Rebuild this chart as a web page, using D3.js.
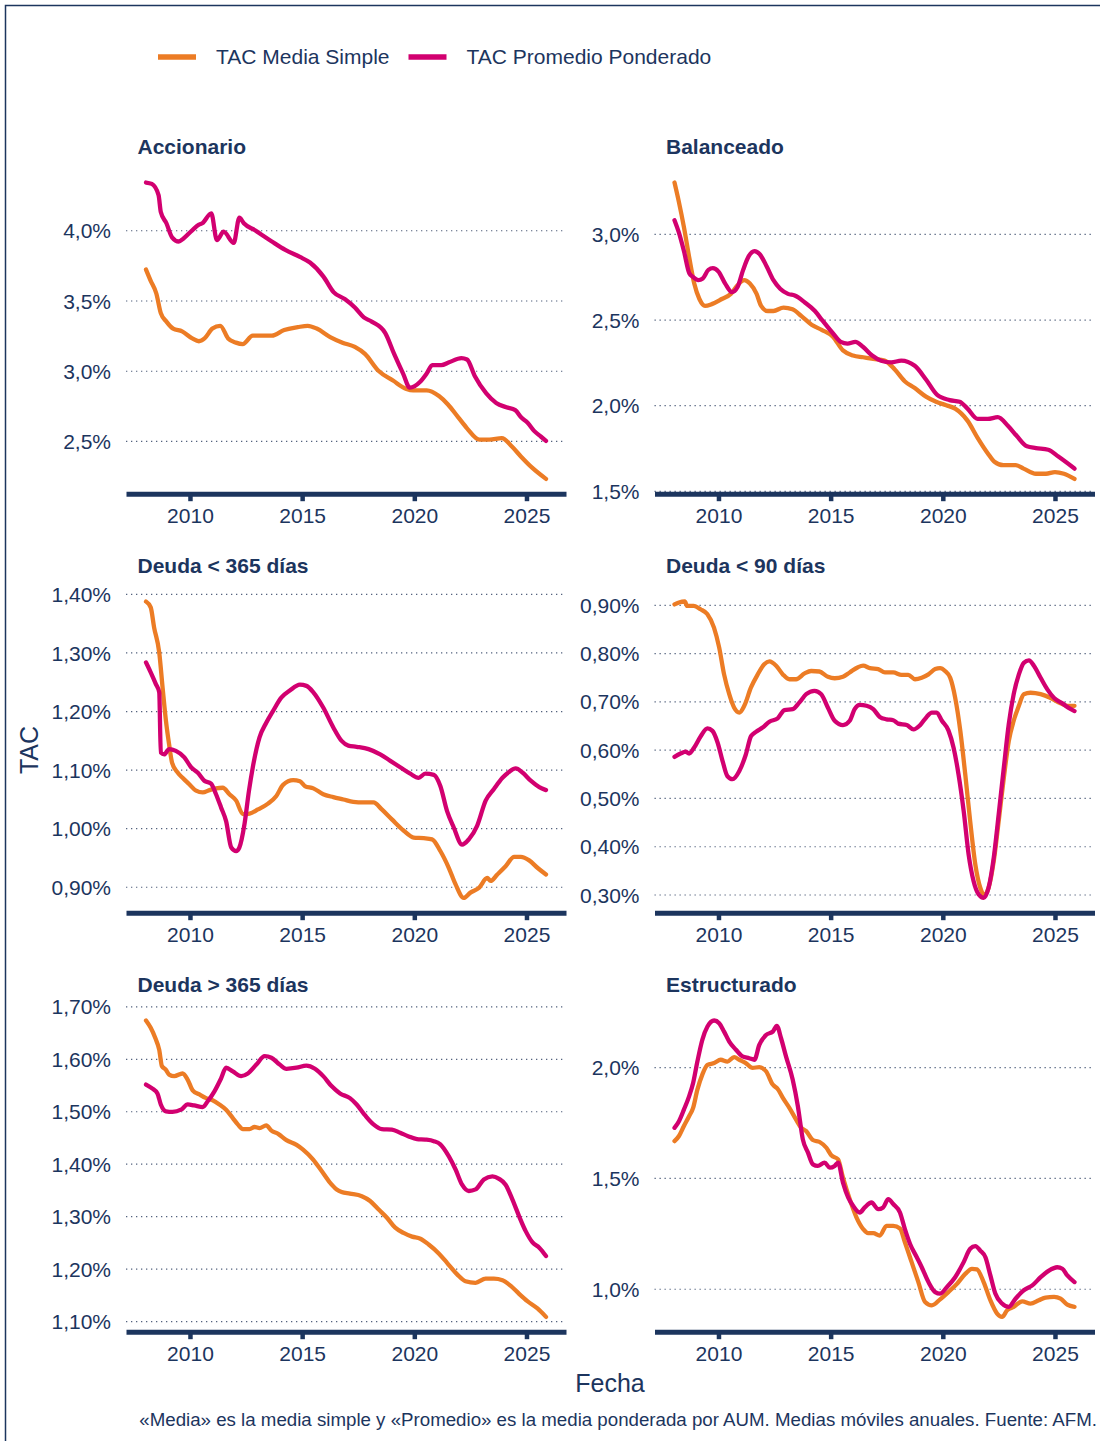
<!DOCTYPE html>
<html lang="es">
<head>
	<meta charset="UTF-8">
	<title>TAC por categoría</title>
	<script src="https://d3js.org/d3.v7.min.js"></script>
	<style>
		body{margin:0;background:#fff;}
		svg text{font-family:"Liberation Sans", Arial, sans-serif;}
	</style>
</head>
<body>
<div id="grafico"></div>
<script>
	// categorías (paneles)
	var paneles = ["Accionario", "Balanceado", "Deuda < 365 días", "Deuda < 90 días", "Deuda > 365 días", "Estructurado"];
	var series = ["TAC Media Simple", "TAC Promedio Ponderado"];
	var fechaTicks = [2010, 2015, 2020, 2025];

	// [año, TAC %]
	var accionarioMedia = [[2008.04,3.72],[2008.25,3.64],[2008.5,3.55],[2008.7,3.41],[2008.95,3.35],[2009.25,3.30],[2009.65,3.28],[2010.1,3.23],[2010.4,3.21],[2010.65,3.23],[2011.0,3.30],[2011.35,3.32],[2011.7,3.23],[2012.05,3.20],[2012.35,3.19],[2012.8,3.25],[2013.2,3.25],[2013.65,3.25],[2014.2,3.29],[2014.8,3.31],[2015.25,3.32],[2015.65,3.30],[2016.25,3.24],[2016.8,3.20],[2017.35,3.17],[2017.8,3.12],[2018.4,3.00],[2019.05,2.93],[2019.65,2.87],[2019.95,2.86],[2020.55,2.86],[2021.1,2.82],[2021.5,2.76],[2021.95,2.67],[2022.35,2.59],[2022.9,2.51],[2023.35,2.51],[2023.9,2.52],[2024.35,2.46],[2024.75,2.39],[2025.25,2.31],[2025.87,2.23]];
	var accionarioPromedio = [[2008.04,4.34],[2008.3,4.33],[2008.6,4.25],[2008.7,4.13],[2008.95,4.05],[2009.2,3.95],[2009.5,3.92],[2009.7,3.94],[2010.1,4.00],[2010.4,4.04],[2010.55,4.05],[2010.95,4.12],[2011.2,3.93],[2011.5,3.99],[2011.95,3.91],[2012.2,4.09],[2012.4,4.05],[2012.9,4.00],[2013.65,3.92],[2014.25,3.86],[2014.9,3.81],[2015.35,3.77],[2015.95,3.67],[2016.4,3.56],[2016.9,3.51],[2017.35,3.45],[2017.75,3.38],[2018.1,3.35],[2018.7,3.27],[2019.1,3.12],[2019.5,2.98],[2019.8,2.88],[2020.25,2.92],[2020.55,2.98],[2020.8,3.04],[2021.2,3.04],[2021.55,3.06],[2022.1,3.09],[2022.35,3.08],[2022.7,2.96],[2023.2,2.84],[2023.65,2.77],[2024.1,2.74],[2024.5,2.72],[2024.75,2.67],[2025.05,2.63],[2025.35,2.57],[2025.65,2.53],[2025.87,2.50]];

	var balanceadoMedia = [[2008.04,3.30],[2008.23,3.19],[2008.46,3.04],[2008.7,2.86],[2008.92,2.71],[2009.15,2.62],[2009.4,2.58],[2009.7,2.59],[2010.15,2.62],[2010.55,2.65],[2010.85,2.70],[2011.15,2.73],[2011.4,2.71],[2011.7,2.65],[2011.9,2.58],[2012.2,2.55],[2012.45,2.55],[2012.9,2.57],[2013.3,2.56],[2013.7,2.52],[2014.15,2.47],[2014.6,2.44],[2015.1,2.40],[2015.55,2.32],[2016.0,2.29],[2016.45,2.28],[2016.9,2.27],[2017.4,2.26],[2017.85,2.21],[2018.3,2.14],[2018.75,2.10],[2019.25,2.05],[2019.7,2.02],[2020.15,2.00],[2020.55,1.98],[2021.1,1.91],[2021.55,1.81],[2022.0,1.72],[2022.3,1.67],[2022.7,1.65],[2023.25,1.65],[2023.6,1.63],[2024.15,1.60],[2024.6,1.60],[2025.0,1.61],[2025.4,1.60],[2025.87,1.57]];
	var balanceadoPromedio = [[2008.04,3.08],[2008.23,3.01],[2008.46,2.90],[2008.7,2.77],[2008.85,2.75],[2009.1,2.73],[2009.3,2.74],[2009.55,2.79],[2009.75,2.80],[2010.0,2.78],[2010.3,2.71],[2010.6,2.66],[2010.85,2.69],[2011.1,2.79],[2011.35,2.87],[2011.6,2.90],[2011.85,2.88],[2012.15,2.81],[2012.45,2.73],[2012.75,2.68],[2013.1,2.65],[2013.4,2.64],[2013.85,2.60],[2014.3,2.55],[2014.6,2.50],[2015.1,2.42],[2015.45,2.37],[2015.75,2.36],[2016.1,2.37],[2016.45,2.34],[2016.85,2.29],[2017.25,2.26],[2017.7,2.25],[2018.15,2.26],[2018.75,2.23],[2019.25,2.15],[2019.75,2.06],[2020.3,2.03],[2020.75,2.02],[2021.1,1.98],[2021.55,1.92],[2022.0,1.92],[2022.45,1.93],[2022.9,1.88],[2023.3,1.82],[2023.75,1.76],[2024.15,1.75],[2024.7,1.74],[2025.15,1.70],[2025.87,1.63]];

	var deuda365Media = [[2008.04,1.387],[2008.25,1.377],[2008.4,1.343],[2008.63,1.300],[2008.78,1.240],[2008.93,1.183],[2009.07,1.143],[2009.2,1.112],[2009.45,1.095],[2009.67,1.086],[2009.97,1.075],[2010.27,1.064],[2010.57,1.061],[2010.87,1.065],[2011.16,1.068],[2011.46,1.069],[2011.76,1.058],[2012.06,1.047],[2012.36,1.024],[2012.66,1.025],[2013.03,1.032],[2013.48,1.042],[2013.85,1.055],[2014.15,1.074],[2014.6,1.082],[2014.9,1.080],[2015.12,1.072],[2015.5,1.068],[2015.94,1.058],[2016.39,1.053],[2016.84,1.049],[2017.28,1.045],[2017.73,1.044],[2018.18,1.044],[2018.55,1.032],[2019.0,1.015],[2019.52,0.996],[2019.97,0.984],[2020.42,0.983],[2020.79,0.981],[2021.16,0.961],[2021.54,0.932],[2021.84,0.904],[2022.2,0.881],[2022.5,0.890],[2022.88,0.898],[2023.25,0.915],[2023.4,0.910],[2023.7,0.921],[2024.07,0.935],[2024.45,0.951],[2024.75,0.951],[2025.12,0.945],[2025.5,0.932],[2025.87,0.921]];
	var deuda365Promedio = [[2008.04,1.283],[2008.25,1.266],[2008.48,1.246],[2008.63,1.232],[2008.7,1.129],[2008.85,1.126],[2009.07,1.135],[2009.37,1.132],[2009.75,1.121],[2010.05,1.104],[2010.34,1.095],[2010.64,1.081],[2010.94,1.076],[2011.16,1.058],[2011.39,1.035],[2011.61,1.012],[2011.84,0.967],[2012.06,0.961],[2012.2,0.967],[2012.43,1.007],[2012.63,1.064],[2012.8,1.104],[2013.1,1.155],[2013.4,1.180],[2013.7,1.200],[2014.07,1.223],[2014.45,1.235],[2014.9,1.245],[2015.19,1.243],[2015.5,1.232],[2015.94,1.206],[2016.39,1.172],[2016.76,1.149],[2017.06,1.141],[2017.43,1.139],[2017.96,1.135],[2018.48,1.126],[2018.93,1.115],[2019.37,1.104],[2019.82,1.093],[2020.19,1.086],[2020.49,1.093],[2020.87,1.091],[2021.16,1.072],[2021.46,1.029],[2021.76,1.001],[2022.13,0.972],[2022.43,0.981],[2022.8,1.004],[2023.18,1.047],[2023.55,1.067],[2023.93,1.086],[2024.22,1.096],[2024.52,1.102],[2024.82,1.095],[2025.19,1.081],[2025.57,1.070],[2025.87,1.065]];

	var deuda90Media = [[2008.04,0.901],[2008.24,0.905],[2008.5,0.907],[2008.6,0.898],[2008.9,0.898],[2009.2,0.891],[2009.5,0.881],[2009.8,0.853],[2010.03,0.812],[2010.25,0.756],[2010.48,0.715],[2010.7,0.687],[2010.93,0.677],[2011.15,0.691],[2011.45,0.729],[2011.75,0.756],[2012.04,0.777],[2012.27,0.783],[2012.57,0.774],[2012.87,0.756],[2013.16,0.746],[2013.46,0.746],[2013.84,0.758],[2014.13,0.763],[2014.5,0.762],[2014.88,0.751],[2015.18,0.748],[2015.55,0.751],[2015.85,0.760],[2016.22,0.771],[2016.45,0.774],[2016.75,0.769],[2017.12,0.767],[2017.42,0.760],[2017.79,0.760],[2018.16,0.755],[2018.46,0.755],[2018.76,0.746],[2019.06,0.749],[2019.36,0.756],[2019.66,0.767],[2019.88,0.769],[2020.1,0.763],[2020.33,0.749],[2020.55,0.708],[2020.78,0.639],[2021.0,0.549],[2021.22,0.452],[2021.45,0.362],[2021.67,0.314],[2021.85,0.299],[2022.04,0.314],[2022.27,0.369],[2022.49,0.452],[2022.72,0.542],[2022.94,0.618],[2023.16,0.660],[2023.39,0.691],[2023.61,0.715],[2023.91,0.718],[2024.36,0.715],[2024.81,0.707],[2025.25,0.696],[2025.55,0.691],[2025.87,0.691]];
	var deuda90Promedio = [[2008.04,0.585],[2008.31,0.592],[2008.54,0.596],[2008.69,0.592],[2008.91,0.604],[2009.21,0.628],[2009.51,0.644],[2009.73,0.639],[2009.96,0.615],[2010.18,0.577],[2010.4,0.545],[2010.63,0.539],[2010.93,0.556],[2011.22,0.590],[2011.45,0.628],[2011.67,0.637],[2011.97,0.646],[2012.27,0.658],[2012.64,0.665],[2012.94,0.682],[2013.31,0.684],[2013.61,0.698],[2013.91,0.715],[2014.28,0.722],[2014.58,0.715],[2014.88,0.687],[2015.18,0.660],[2015.55,0.651],[2015.85,0.660],[2016.07,0.684],[2016.3,0.693],[2016.6,0.691],[2016.9,0.684],[2017.19,0.668],[2017.49,0.663],[2017.79,0.661],[2018.01,0.654],[2018.39,0.651],[2018.69,0.642],[2018.99,0.651],[2019.28,0.668],[2019.51,0.677],[2019.73,0.677],[2019.96,0.660],[2020.25,0.640],[2020.48,0.604],[2020.7,0.549],[2020.93,0.473],[2021.15,0.383],[2021.37,0.328],[2021.6,0.300],[2021.82,0.293],[2022.04,0.314],[2022.27,0.376],[2022.49,0.466],[2022.72,0.563],[2022.94,0.653],[2023.16,0.715],[2023.39,0.756],[2023.61,0.780],[2023.84,0.785],[2024.06,0.774],[2024.36,0.749],[2024.66,0.725],[2024.96,0.707],[2025.33,0.696],[2025.63,0.686],[2025.87,0.680]];

	var deudaMas365Media = [[2008.04,1.673],[2008.25,1.659],[2008.45,1.640],[2008.63,1.617],[2008.75,1.586],[2008.93,1.579],[2009.07,1.570],[2009.3,1.567],[2009.67,1.572],[2009.9,1.560],[2010.12,1.540],[2010.42,1.532],[2010.72,1.525],[2011.01,1.521],[2011.31,1.513],[2011.61,1.503],[2011.91,1.487],[2012.13,1.475],[2012.36,1.466],[2012.66,1.466],[2012.88,1.470],[2013.1,1.468],[2013.4,1.473],[2013.63,1.463],[2013.93,1.457],[2014.3,1.445],[2014.75,1.436],[2015.04,1.427],[2015.49,1.408],[2015.87,1.386],[2016.24,1.364],[2016.54,1.351],[2016.76,1.346],[2017.13,1.343],[2017.66,1.338],[2018.03,1.329],[2018.4,1.313],[2018.78,1.297],[2019.15,1.278],[2019.52,1.268],[2019.9,1.261],[2020.27,1.257],[2020.64,1.246],[2021.09,1.229],[2021.46,1.211],[2021.91,1.189],[2022.28,1.176],[2022.73,1.173],[2023.18,1.181],[2023.55,1.181],[2023.93,1.178],[2024.3,1.167],[2024.67,1.152],[2025.04,1.138],[2025.49,1.124],[2025.87,1.108]];
	var deudaMas365Promedio = [[2008.04,1.551],[2008.33,1.543],[2008.55,1.534],[2008.7,1.513],[2008.93,1.500],[2009.22,1.499],[2009.6,1.503],[2009.9,1.513],[2010.19,1.511],[2010.57,1.508],[2010.79,1.519],[2011.09,1.538],[2011.39,1.563],[2011.61,1.583],[2011.91,1.576],[2012.28,1.567],[2012.58,1.572],[2012.96,1.589],[2013.33,1.605],[2013.63,1.602],[2014.0,1.589],[2014.3,1.581],[2014.75,1.583],[2015.19,1.587],[2015.57,1.581],[2015.94,1.567],[2016.31,1.548],[2016.69,1.534],[2017.13,1.525],[2017.43,1.513],[2017.81,1.492],[2018.18,1.475],[2018.55,1.466],[2019.0,1.465],[2019.37,1.459],[2019.75,1.452],[2020.12,1.447],[2020.49,1.446],[2020.87,1.443],[2021.16,1.437],[2021.54,1.414],[2021.84,1.389],[2022.13,1.360],[2022.43,1.348],[2022.73,1.351],[2023.1,1.370],[2023.48,1.376],[2023.78,1.371],[2024.07,1.360],[2024.37,1.332],[2024.67,1.300],[2024.97,1.271],[2025.27,1.250],[2025.57,1.240],[2025.87,1.224]];

	var estructuradoMedia = [[2008.04,1.666],[2008.24,1.689],[2008.46,1.734],[2008.69,1.778],[2008.87,1.816],[2009.06,1.898],[2009.28,1.966],[2009.51,2.010],[2009.81,2.018],[2010.1,2.033],[2010.4,2.025],[2010.7,2.045],[2010.93,2.033],[2011.22,2.018],[2011.52,1.996],[2011.82,2.000],[2012.12,1.981],[2012.42,1.921],[2012.64,1.901],[2012.87,1.861],[2013.16,1.816],[2013.46,1.763],[2013.69,1.726],[2013.91,1.711],[2014.21,1.671],[2014.51,1.662],[2014.81,1.636],[2015.03,1.602],[2015.33,1.584],[2015.55,1.501],[2015.85,1.404],[2016.15,1.322],[2016.45,1.269],[2016.67,1.251],[2016.9,1.251],[2017.19,1.240],[2017.49,1.284],[2017.79,1.284],[2018.09,1.272],[2018.31,1.210],[2018.61,1.120],[2018.91,1.030],[2019.21,0.940],[2019.51,0.925],[2019.88,0.952],[2020.25,0.985],[2020.63,1.022],[2021.0,1.067],[2021.3,1.090],[2021.52,1.087],[2021.82,1.030],[2022.12,0.948],[2022.42,0.888],[2022.64,0.873],[2022.87,0.903],[2023.16,0.918],[2023.54,0.943],[2023.91,0.933],[2024.28,0.948],[2024.58,0.960],[2024.96,0.963],[2025.25,0.955],[2025.55,0.928],[2025.87,0.918]];
	var estructuradoPromedio = [[2008.04,1.726],[2008.24,1.756],[2008.46,1.808],[2008.69,1.868],[2008.87,1.928],[2009.06,2.025],[2009.28,2.123],[2009.51,2.183],[2009.81,2.210],[2010.03,2.198],[2010.25,2.160],[2010.48,2.115],[2010.78,2.078],[2011.07,2.048],[2011.37,2.040],[2011.6,2.033],[2011.82,2.100],[2012.12,2.145],[2012.42,2.160],[2012.6,2.186],[2012.79,2.130],[2013.01,2.048],[2013.31,1.943],[2013.54,1.823],[2013.76,1.674],[2013.99,1.614],[2014.21,1.561],[2014.43,1.554],[2014.73,1.569],[2014.96,1.546],[2015.18,1.554],[2015.33,1.569],[2015.55,1.479],[2015.78,1.412],[2016.0,1.374],[2016.3,1.344],[2016.52,1.367],[2016.82,1.389],[2017.12,1.359],[2017.34,1.367],[2017.57,1.404],[2017.79,1.382],[2018.09,1.344],[2018.31,1.269],[2018.54,1.202],[2018.84,1.142],[2019.06,1.097],[2019.36,1.030],[2019.66,0.985],[2019.88,0.978],[2020.18,1.007],[2020.55,1.052],[2020.93,1.120],[2021.22,1.180],[2021.45,1.192],[2021.67,1.172],[2021.9,1.142],[2022.12,1.060],[2022.34,0.978],[2022.64,0.933],[2022.94,0.918],[2023.24,0.955],[2023.61,0.993],[2023.99,1.015],[2024.36,1.052],[2024.73,1.082],[2025.1,1.097],[2025.33,1.090],[2025.55,1.060],[2025.87,1.030]];

	// marcas del eje y por panel
	var accionarioTicks = [2.5, 3.0, 3.5, 4.0];
	var balanceadoTicks = [1.5, 2.0, 2.5, 3.0];
	var deuda365Ticks = [0.9, 1.0, 1.1, 1.2, 1.3, 1.4];
	var deuda90Ticks = [0.3, 0.4, 0.5, 0.6, 0.7, 0.8, 0.9];
	var deudaMas365Ticks = [1.1, 1.2, 1.3, 1.4, 1.5, 1.6, 1.7];
	var estructuradoTicks = [1.0, 1.5, 2.0];
	var decimales = [1, 1, 2, 2, 2, 1];

	var media = [accionarioMedia, balanceadoMedia, deuda365Media, deuda90Media, deudaMas365Media, estructuradoMedia];
	var promedio = [accionarioPromedio, balanceadoPromedio, deuda365Promedio, deuda90Promedio, deudaMas365Promedio, estructuradoPromedio];
	var ticksY = [accionarioTicks, balanceadoTicks, deuda365Ticks, deuda90Ticks, deudaMas365Ticks, estructuradoTicks];

	var naranja = "#EC7C25", magenta = "#D20070", azul = "#1c355e";
	var colores = [naranja, magenta];

	var es = d3.formatLocale({decimal: ",", thousands: ".", grouping: [3], currency: ["", " €"]});

	var svg = d3.select('#grafico').append('svg')
		.attr('width', 1100).attr('height', 1441);

	svg.append('rect').attr('width', 1100).attr('height', 1441).attr('fill', '#fff');
	// marco
	svg.append('rect').attr('x', 5.5).attr('y', 5.5).attr('width', 1110).attr('height', 1450)
		.attr('fill', 'none').attr('stroke', azul).attr('stroke-width', 1.5);

	var columnas = [[126, 566], [654.5, 1094.5]];
	var filas = [167.7, 586.7, 1005.7];
	var altoPanel = 326;

	// eje x común (expansión 5%)
	var todos = d3.merge(media.concat(promedio));
	var xExt = d3.extent(todos, function(d){ return d[0]; });
	var xPad = (xExt[1] - xExt[0]) * 0.05;

	var linea = d3.line().curve(d3.curveMonotoneX);

	paneles.forEach(function(nombre, i){
		var col = columnas[i % 2];
		var top = filas[Math.floor(i / 2)];
		var bottom = top + altoPanel;

		var x = d3.scaleLinear().domain([xExt[0] - xPad, xExt[1] + xPad]).range(col);
		var yExt = d3.extent(media[i].concat(promedio[i]), function(d){ return d[1]; });
		var yPad = (yExt[1] - yExt[0]) * 0.05;
		var y = d3.scaleLinear().domain([yExt[0] - yPad, yExt[1] + yPad]).range([bottom, top]);

		var g = svg.append('g');

		// eje y + rejilla punteada
		var fmt = es.format('.' + decimales[i] + 'f');
		var ejeY = g.append('g')
			.attr('transform', 'translate(' + col[0] + ',0)')
			.style('color', azul)
			.call(d3.axisLeft(y).tickValues(ticksY[i]).tickSize(-(col[1] - col[0])).tickPadding(15)
				.tickFormat(function(d){ return fmt(d) + '%'; }));
		ejeY.select('.domain').remove();
		ejeY.selectAll('.tick line').attr('stroke', '#53627e').attr('stroke-width', 1.2).attr('stroke-dasharray', '1.3,3.7');
		ejeY.selectAll('.tick text').attr('font-size', 21).attr('dy', '0.36em');

		// series
		[media[i], promedio[i]].forEach(function(s, k){
			g.append('path')
				.attr('d', linea.x(function(d){ return x(d[0]); }).y(function(d){ return y(d[1]); })(s))
				.attr('fill', 'none')
				.attr('stroke', colores[k])
				.attr('stroke-width', 4.3)
				.attr('stroke-linejoin', 'round')
				.attr('stroke-linecap', 'round');
		});

		// eje x
		var ejeX = g.append('g')
			.attr('transform', 'translate(0,' + bottom + ')')
			.style('color', azul)
			.call(d3.axisBottom(x).tickValues(fechaTicks).tickSize(7.5).tickSizeOuter(0).tickPadding(7).tickFormat(d3.format('d')));
		ejeX.select('.domain').attr('stroke-width', 5);
		ejeX.selectAll('.tick line').attr('stroke-width', 4.5);
		ejeX.selectAll('.tick text').attr('font-size', 21);

		// título del panel
		g.append('text')
			.attr('x', col[0] + 11.5).attr('y', top - 13.5)
			.attr('font-size', 21).attr('font-weight', 'bold').attr('fill', azul)
			.text(nombre);
	});

	// leyenda
	var leyenda = svg.append('g');
	var posLeyenda = [158, 408.5];
	series.forEach(function(s, k){
		leyenda.append('line')
			.attr('x1', posLeyenda[k]).attr('x2', posLeyenda[k] + 38)
			.attr('y1', 57).attr('y2', 57)
			.attr('stroke', colores[k]).attr('stroke-width', 5.5);
		leyenda.append('text')
			.attr('x', posLeyenda[k] + 58).attr('y', 63.5)
			.attr('font-size', 21).attr('fill', azul)
			.text(s);
	});

	// títulos de ejes y nota
	svg.append('text')
		.attr('transform', 'translate(38,750) rotate(-90)')
		.attr('text-anchor', 'middle').attr('font-size', 25).attr('fill', azul)
		.text('TAC');
	svg.append('text')
		.attr('x', 610).attr('y', 1392)
		.attr('text-anchor', 'middle').attr('font-size', 25).attr('fill', azul)
		.text('Fecha');
	svg.append('text')
		.attr('x', 1097).attr('y', 1426)
		.attr('text-anchor', 'end').attr('font-size', 18.7).attr('fill', azul)
		.text('«Media» es la media simple y «Promedio» es la media ponderada por AUM. Medias móviles anuales. Fuente: AFM.');
</script>
</body>
</html>
